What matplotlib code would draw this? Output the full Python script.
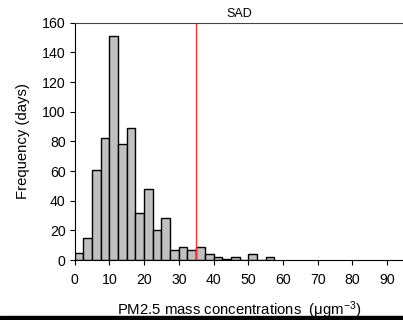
import matplotlib
matplotlib.use('Agg')
import matplotlib.pyplot as plt
from matplotlib.patches import Rectangle

plt.rcParams['font.family'] = ['Liberation Sans', 'DejaVu Sans']
plt.rcParams['mathtext.default'] = 'regular'

# PM2.5 histogram, bins of 2.5 ugm-3 starting at 0
bin_width = 2.5
counts = [5, 15, 61, 82, 151, 78, 89, 32, 48, 20, 28, 7, 9, 7, 9, 4, 2, 1, 2, 0, 4, 0, 2]
bin_starts = [i * bin_width for i in range(len(counts))]
sad_limit = 35
xticks = [0, 10, 20, 30, 40, 50, 60, 70, 80, 90]
yticks = [0, 20, 40, 60, 80, 100, 120, 140, 160]

fig = plt.figure(figsize=(4.03, 3.2), dpi=100)
ax = fig.add_axes([0.1853, 0.1875, 0.8147, 0.7416])

ax.bar(bin_starts, counts, width=bin_width, align='edge',
       color='#c0c0c0', edgecolor='black', linewidth=1)
ax.axvline(sad_limit, color='#ff3333', linewidth=1)
ax.text(47.3, 161.5, 'SAD', ha='center', va='bottom', fontsize=9)

ax.set_xlim(0, 94.6)
ax.set_ylim(0, 160)
ax.set_xticks(xticks)
ax.set_yticks(yticks)
ax.tick_params(direction='out', length=3.5, width=0.8, labelsize=10.2, pad=3)
ax.tick_params(axis='x', pad=6)
ax.spines['right'].set_visible(False)
for s in ['left', 'bottom', 'top']:
    ax.spines[s].set_linewidth(0.8)
ax.spines['top'].set_color('#444444')

ax.set_ylabel('Frequency (days)', fontsize=10.7, labelpad=9)
ax.set_xlabel('PM2.5 mass concentrations  (μgm$^{-3}$)', fontsize=10.7, labelpad=9)

fig.patches.append(Rectangle((0, 0), 1, 4 / 320, transform=fig.transFigure,
                             color='black', zorder=10))

fig.savefig('out.png', dpi=100)
